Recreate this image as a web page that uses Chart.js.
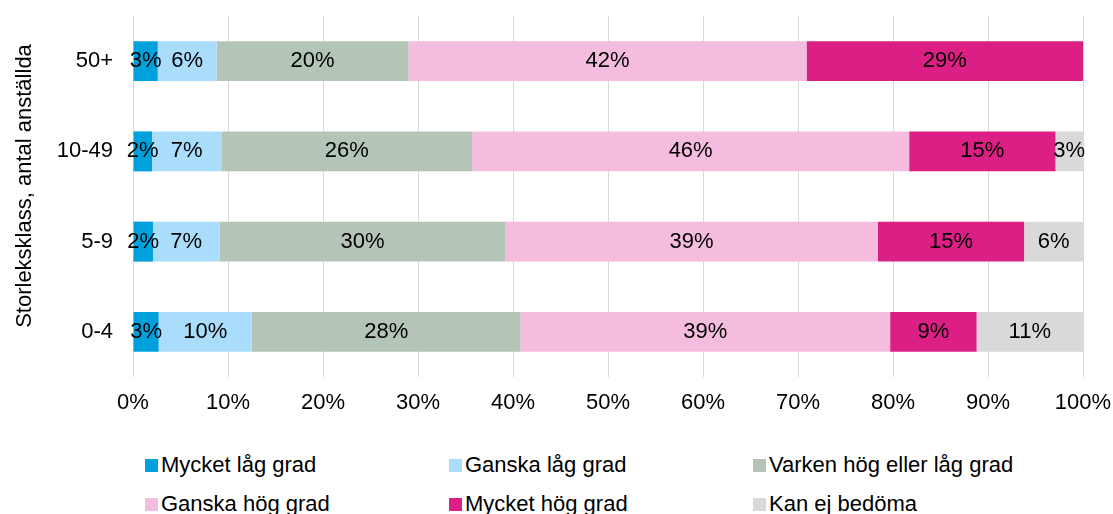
<!DOCTYPE html>
<html lang="sv">

<head>
  <meta charset="UTF-8">
  <title>Storleksklass, antal anställda</title>
  <style>
    body {
      margin: 0;
      background: #ffffff;
      font-family: 'Liberation Sans', Arial, sans-serif;
    }

    #chart-box {
      position: absolute;
      left: 0;
      top: 0;
      width: 1113px;
      height: 440px;
    }

    #legend {
      position: absolute;
      left: 145px;
      top: 452px;
      display: grid;
      grid-template-columns: 304px 304px 304px;
      grid-auto-rows: 39px;
    }

    .item {
      display: flex;
      align-items: center;
      height: 26px;
      font-size: 22px;
      line-height: 26px;
      color: #000;
      white-space: nowrap;
    }

    .swatch {
      width: 13px;
      height: 13px;
      margin-right: 3px;
    }
  </style>
</head>

<body>
  <div id="chart-box"><canvas id="chart"></canvas></div>
  <div id="legend"></div>

  <script src="https://cdn.jsdelivr.net/npm/chart.js"></script>
  <script>
    // categories, top to bottom
    const sizeClasses = ['50+', '10-49', '5-9', '0-4'];

    // share of answers (%) per size class
    const mycketLag = [2.6, 2.0, 2.1, 2.7];
    const ganskaLag = [6.2, 7.3, 7.0, 9.8];
    const varken = [20.2, 26.4, 30.1, 28.3];
    const ganskaHog = [41.9, 46.0, 39.2, 38.9];
    const mycketHog = [29.1, 15.4, 15.4, 9.1];
    const kanEj = [0, 2.9, 6.2, 11.2];

    const seriesNames = ['Mycket låg grad', 'Ganska låg grad', 'Varken hög eller låg grad',
      'Ganska hög grad', 'Mycket hög grad', 'Kan ej bedöma'];
    const seriesValues = [mycketLag, ganskaLag, varken, ganskaHog, mycketHog, kanEj];
    const seriesColors = ['#00a0dc', '#a9ddfb', '#b4c5b7', '#f5bddd', '#dc1f84', '#d9d9d9'];

    const xTicks = [0, 10, 20, 30, 40, 50, 60, 70, 80, 90, 100];
    const axisTitle = 'Storleksklass, antal anställda';

    const FONT = "'Liberation Sans', Arial, sans-serif";
    Chart.defaults.font.family = FONT;
    Chart.defaults.font.size = 22;
    Chart.defaults.color = '#000';

    // percent labels in the middle of each segment
    const segmentLabels = {
      id: 'segmentLabels',
      afterDatasetsDraw(chart) {
        const ctx = chart.ctx;
        ctx.save();
        ctx.font = '22px ' + FONT;
        ctx.fillStyle = '#000';
        ctx.textAlign = 'center';
        ctx.textBaseline = 'middle';
        chart.data.datasets.forEach((ds, i) => {
          chart.getDatasetMeta(i).data.forEach((bar, j) => {
            const v = ds.data[j];
            if (!v) return;
            const p = bar.getCenterPoint();
            ctx.fillText(Math.round(v) + '%', p.x, p.y);
          });
        });
        ctx.restore();
      }
    };

    // rotated y axis title, sits a bit above the plot centre like the original
    const yTitle = {
      id: 'yTitle',
      afterDraw(chart) {
        const ctx = chart.ctx;
        ctx.save();
        ctx.translate(24.5, 186);
        ctx.rotate(-Math.PI / 2);
        ctx.font = '22px ' + FONT;
        ctx.fillStyle = '#000';
        ctx.textAlign = 'center';
        ctx.textBaseline = 'middle';
        ctx.fillText(axisTitle, 0, 0);
        ctx.restore();
      }
    };

    // no extra room for half tick labels, the layout padding handles it
    function noEdgePadding(s) {
      s.paddingLeft = 0;
      s.paddingRight = 0;
      s.paddingTop = 0;
      s.paddingBottom = 0;
    }

    const chart = new Chart(document.getElementById('chart'), {
      type: 'bar',
      data: {
        labels: sizeClasses,
        datasets: seriesNames.map((name, i) => ({
          label: name,
          data: seriesValues[i],
          backgroundColor: seriesColors[i],
          borderWidth: 0,
          categoryPercentage: 1,
          barPercentage: 0.443
        }))
      },
      options: {
        indexAxis: 'y',
        responsive: true,
        maintainAspectRatio: false,
        animation: false,
        layout: { padding: { top: 16, right: 30, left: 0, bottom: 0 } },
        plugins: {
          legend: { display: false },
          tooltip: { enabled: false }
        },
        scales: {
          x: {
            stacked: true,
            min: 0,
            max: 100,
            afterBuildTicks: s => { s.ticks = xTicks.map(v => ({ value: v })); },
            ticks: { callback: v => v + '%', padding: 13, maxRotation: 0 },
            grid: { color: '#d9d9d9', lineWidth: 1, drawTicks: false },
            border: { display: false },
            afterFit: s => { s.height = 63; noEdgePadding(s); }
          },
          y: {
            stacked: true,
            ticks: { padding: 20 },
            grid: { display: false, drawTicks: false },
            border: { display: false },
            afterFit: s => { s.width = 133; noEdgePadding(s); }
          }
        }
      },
      plugins: [segmentLabels, yTitle]
    });

    // legend in three columns, built from the datasets
    const legend = document.getElementById('legend');
    chart.data.datasets.forEach(ds => {
      const item = document.createElement('div');
      item.className = 'item';
      const sw = document.createElement('span');
      sw.className = 'swatch';
      sw.style.background = ds.backgroundColor;
      item.appendChild(sw);
      item.appendChild(document.createTextNode(ds.label));
      legend.appendChild(item);
    });
  </script>
</body>

</html>
